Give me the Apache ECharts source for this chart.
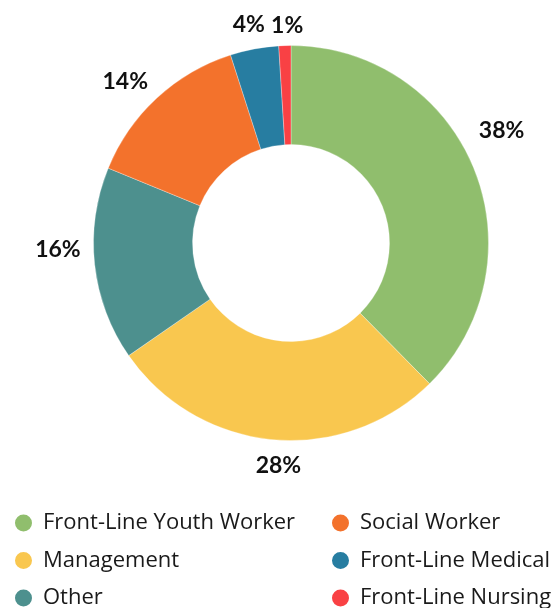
<!DOCTYPE html>
<html>
<head>
<meta charset="utf-8">
<script src="https://cdn.jsdelivr.net/npm/echarts@6/dist/echarts.min.js"></script>
<style>
  html, body { margin: 0; padding: 0; background: #fff; }
  #chart { width: 557px; height: 608px; }
</style>
</head>
<body>
<div id="chart"></div>
<script>
// Share of respondents by role (percent)
const roles = ['Front-Line Youth Worker', 'Management', 'Other', 'Social Worker', 'Front-Line Medical', 'Front-Line Nursing'];
const shares = [38, 28, 16, 14, 4, 1];
const roleColors = ['#90BE6D', '#F9C74F', '#4D908E', '#F3722C', '#277DA1', '#F94144'];

// Legend columns
const legendLeft = ['Front-Line Youth Worker', 'Management', 'Other'];
const legendRight = ['Social Worker', 'Front-Line Medical', 'Front-Line Nursing'];

// Ring geometry and label placement
const CENTER = [291, 243];
const RADII = [98.5, 197.5];
const LABEL_RADIUS = 211;
// small pixel nudges applied to each percentage label after radial placement
const labelNudge = [[-7, -23], [8, 2], [0, -19], [-8, 9], [-1, 0], [3, 2]];

const total = shares.reduce((a, b) => a + b, 0);
const midAngles = [];
let acc = 0;
shares.forEach(v => {
  midAngles.push(((acc + v / 2) / total) * Math.PI * 2);
  acc += v;
});

const chart = echarts.init(document.getElementById('chart'), null, { renderer: 'canvas' });

const legendCommon = {
  orient: 'vertical',
  top: 512,
  height: 130,
  padding: 0,
  icon: 'circle',
  itemWidth: 19,
  itemHeight: 19,
  itemGap: 15.5,
  selectedMode: false,
  textStyle: {
    fontFamily: 'Open Sans',
    fontSize: 22,
    lineHeight: 20,
    color: '#1a1a1a',
    padding: [0, 0, 0, 5]
  }
};

chart.setOption({
  animation: false,
  color: roleColors,
  legend: [
    Object.assign({}, legendCommon, { left: 13, data: legendLeft }),
    Object.assign({}, legendCommon, { left: 330, data: legendRight })
  ],
  series: [{
    type: 'pie',
    center: CENTER,
    radius: RADII,
    startAngle: 90,
    clockwise: true,
    avoidLabelOverlap: false,
    itemStyle: { borderColor: '#fff', borderWidth: 0.3 },
    label: {
      show: true,
      position: 'outside',
      formatter: p => p.value + '%',
      fontFamily: 'Lato',
      fontWeight: 'bold',
      fontSize: 23,
      color: '#111'
    },
    labelLine: { show: false },
    labelLayout: function (params) {
      const i = params.dataIndex;
      const a = midAngles[i];
      const dx = Math.sin(a), dy = -Math.cos(a);
      const w = params.labelRect.width;
      const ext = Math.abs(dx) * w / 2 + Math.abs(dy) * 8;
      const r = LABEL_RADIUS + ext;
      return {
        x: CENTER[0] + dx * r + labelNudge[i][0],
        y: CENTER[1] + dy * r + labelNudge[i][1],
        align: 'center',
        verticalAlign: 'middle',
        hideOverlap: false
      };
    },
    data: roles.map((name, i) => ({ name: name, value: shares[i] }))
  }]
});
</script>
</body>
</html>
